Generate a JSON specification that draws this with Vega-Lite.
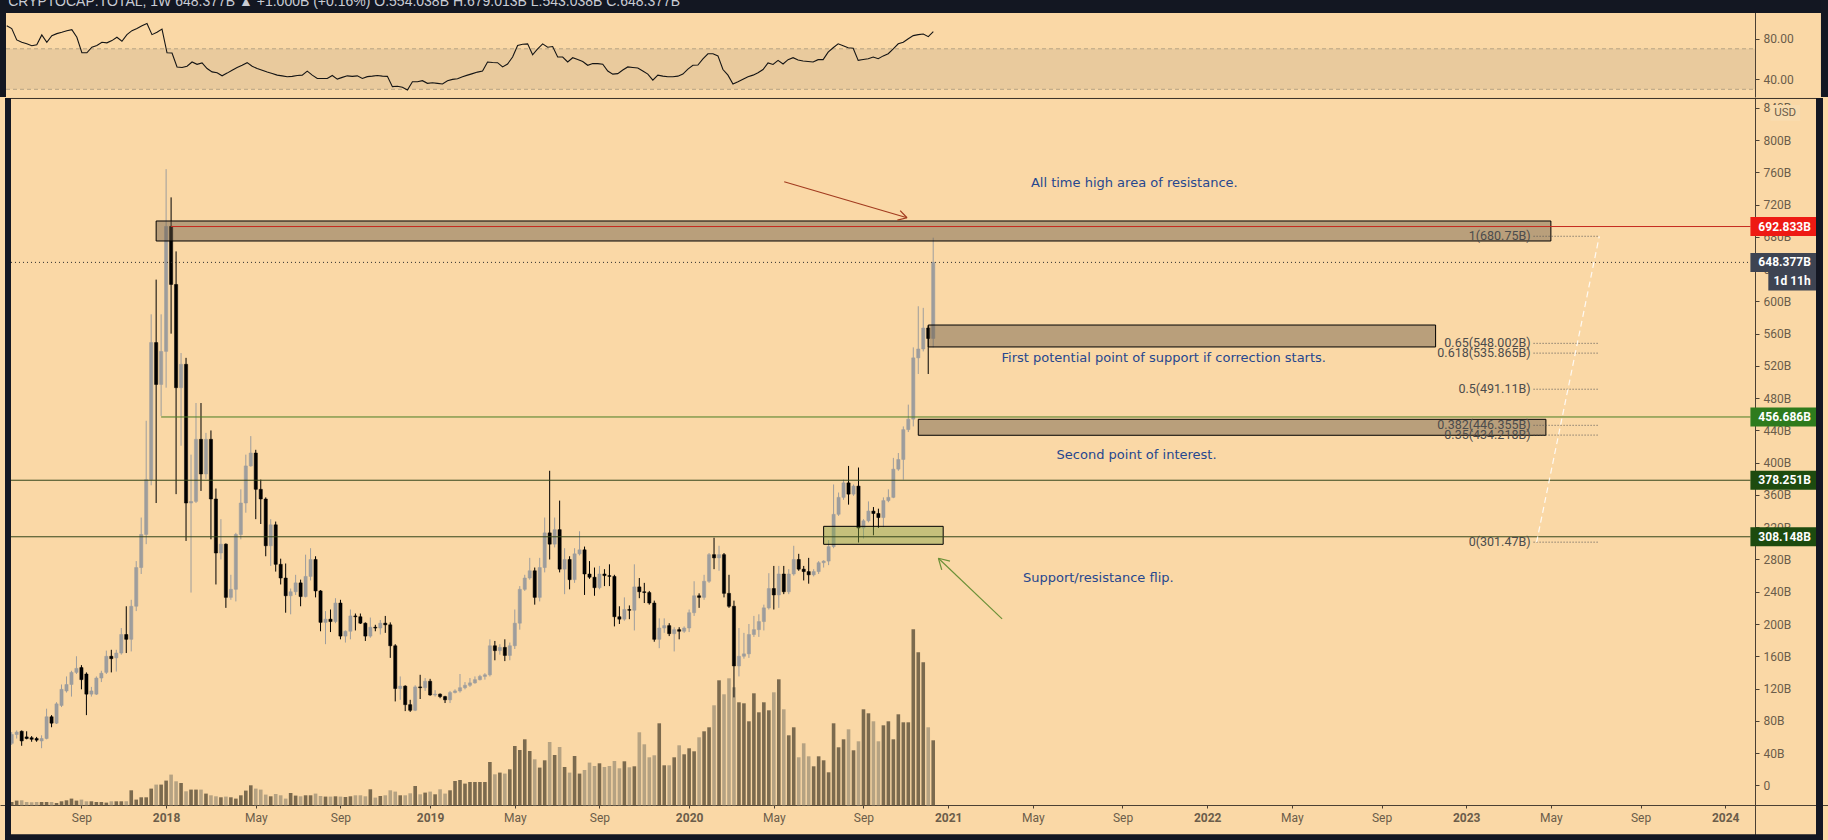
{
"$schema": "https://vega.github.io/schema/vega-lite/v6.json",
"background": "#fad8a6",
"padding": 0,
"spacing": 0,
"config": {
  "view": {"stroke": null},
  "font": "Liberation Sans",
  "axis": {"labelFont": "Roboto", "labelFontSize": 12, "labelColor": "#6b5d4a", "domainColor": "#4b4033", "tickColor": "#4b4033", "grid": false, "labelOverlap": false, "labelSeparation": 0},
  "axisY": {"labelOverlap": false},
  "axisRight": {"labelOverlap": false},
  "axisQuantitative": {"labelOverlap": false}
},
"datasets": {
  "meta": [{"header": "CRYPTOCAP:TOTAL, 1W  648.377B \u25b2 +1.000B (+0.16%)  O:554.038B  H:679.013B  L:543.038B  C:648.377B", "currency": "USD", "countdown": "1d 11h"}],
  "rsiBand": [{"lower": 30, "upper": 70}],
  "levels": [
    {"kind": "resistance", "level": 692.833, "start": "2018-01-08"},
    {"kind": "support", "level": 456.686, "start": "2017-12-25"},
    {"kind": "flip", "level": 378.251, "start": "2017-05-28"},
    {"kind": "flip", "level": 308.148, "start": "2017-05-28"},
    {"kind": "last", "level": 648.377, "start": "2017-05-28"}
  ],
  "zones": [
    {"zone": "ath", "start": "2017-12-18", "end": "2023-05-01", "top": 699.7, "bottom": 674.9},
    {"zone": "support1", "start": "2020-12-07", "end": "2022-11-20", "top": 570.7, "bottom": 543.5},
    {"zone": "support2", "start": "2020-11-23", "end": "2023-04-24", "top": 453.8, "bottom": 434.0},
    {"zone": "flip", "start": "2020-07-13", "end": "2020-12-28", "top": 321.1, "bottom": 298.8}
  ],
  "fib": [
    {"ratio": "1", "level": 680.75, "label": "1(680.75B)"},
    {"ratio": "0.65", "level": 548.002, "label": "0.65(548.002B)"},
    {"ratio": "0.618", "level": 535.865, "label": "0.618(535.865B)"},
    {"ratio": "0.5", "level": 491.11, "label": "0.5(491.11B)"},
    {"ratio": "0.382", "level": 446.355, "label": "0.382(446.355B)"},
    {"ratio": "0.35", "level": 434.218, "label": "0.35(434.218B)"},
    {"ratio": "0", "level": 301.47, "label": "0(301.47B)"}
  ],
  "fibTrend": [
    {"date": "2023-04-10T22:00:00Z", "level": 301.47},
    {"date": "2023-07-08T00:00:00Z", "level": 680.75}
  ],
  "arrows": [
    {"arrow": "red", "fromDate": "2020-05-18T14:00:00Z", "fromPrice": 748.4, "toDate": "2020-11-07T05:00:00Z", "toPrice": 703.7},
    {"arrow": "red", "fromDate": "2020-10-28T14:00:00Z", "fromPrice": 712.6, "toDate": "2020-11-07T05:00:00Z", "toPrice": 703.7},
    {"arrow": "red", "fromDate": "2020-10-24T17:00:00Z", "fromPrice": 700.7, "toDate": "2020-11-07T05:00:00Z", "toPrice": 703.7},
    {"arrow": "green", "fromDate": "2021-03-20T19:00:00Z", "fromPrice": 206.3, "toDate": "2020-12-21T07:00:00Z", "toPrice": 281.5},
    {"arrow": "green", "fromDate": "2020-12-26T00:00:00Z", "fromPrice": 267.2, "toDate": "2020-12-21T07:00:00Z", "toPrice": 281.5},
    {"arrow": "green", "fromDate": "2021-01-06T14:00:00Z", "fromPrice": 278.0, "toDate": "2020-12-21T07:00:00Z", "toPrice": 281.5}
  ],
  "notes": [
    {"date": "2021-09-22T14:00:00Z", "price": 746.8, "note": "All time high area of resistance."},
    {"date": "2021-11-03T00:00:00Z", "price": 529.8, "note": "First potential point of support if correction starts."},
    {"date": "2021-09-25T19:00:00Z", "price": 410, "note": "Second point of interest."},
    {"date": "2021-08-03T00:00:00Z", "price": 257, "note": "Support/resistance flip."}
  ],
  "candles": [
{"date":"2017-05-29","open":52,"high":66,"low":50,"close":63,"volume":3.3,"rsi":92.8},
{"date":"2017-06-05","open":63,"high":68,"low":58,"close":66,"volume":4.7,"rsi":90},
{"date":"2017-06-12","open":67,"high":68,"low":49,"close":55,"volume":5,"rsi":78.8},
{"date":"2017-06-19","open":60,"high":67,"low":57,"close":58,"volume":3.3,"rsi":76.5},
{"date":"2017-06-26","open":59,"high":61,"low":54,"close":57,"volume":3,"rsi":74.9},
{"date":"2017-07-03","open":58,"high":60,"low":54,"close":56,"volume":3.3,"rsi":73},
{"date":"2017-07-10","open":55,"high":62,"low":46,"close":58,"volume":3.3,"rsi":74},
{"date":"2017-07-17","open":58,"high":95,"low":57,"close":85,"volume":3.3,"rsi":83.7},
{"date":"2017-07-24","open":85,"high":87,"low":72,"close":77,"volume":3.3,"rsi":76.5},
{"date":"2017-07-31","open":77,"high":103,"low":76,"close":101,"volume":2.3,"rsi":83},
{"date":"2017-08-07","open":99,"high":125,"low":97,"close":119,"volume":4,"rsi":85},
{"date":"2017-08-14","open":117,"high":135,"low":115,"close":125,"volume":5,"rsi":86.3},
{"date":"2017-08-21","open":125,"high":142,"low":110,"close":140,"volume":6.7,"rsi":87.9},
{"date":"2017-08-28","open":140,"high":160,"low":138,"close":145,"volume":4.7,"rsi":88.9},
{"date":"2017-09-04","open":146,"high":149,"low":119,"close":131,"volume":5.7,"rsi":81.4},
{"date":"2017-09-11","open":138,"high":140,"low":87,"close":113,"volume":4,"rsi":66.1},
{"date":"2017-09-18","open":113,"high":122,"low":110,"close":117,"volume":4,"rsi":66.1},
{"date":"2017-09-25","open":113,"high":135,"low":112,"close":133,"volume":3.3,"rsi":71.6},
{"date":"2017-10-02","open":133,"high":142,"low":128,"close":139,"volume":3.3,"rsi":73.3},
{"date":"2017-10-09","open":140,"high":167,"low":138,"close":160,"volume":2.7,"rsi":76.5},
{"date":"2017-10-16","open":160,"high":168,"low":140,"close":157,"volume":4,"rsi":75.9},
{"date":"2017-10-23","open":158,"high":168,"low":141,"close":164,"volume":4,"rsi":78.1},
{"date":"2017-10-30","open":164,"high":195,"low":162,"close":187,"volume":4,"rsi":81.4},
{"date":"2017-11-06","open":187,"high":222,"low":164,"close":181,"volume":4,"rsi":77.5},
{"date":"2017-11-13","open":181,"high":230,"low":166,"close":222,"volume":15,"rsi":84},
{"date":"2017-11-20","open":222,"high":278,"low":216,"close":270,"volume":5.7,"rsi":87.9},
{"date":"2017-11-27","open":270,"high":332,"low":262,"close":311,"volume":8,"rsi":90},
{"date":"2017-12-04","open":311,"high":452,"low":299,"close":379,"volume":8,"rsi":92.8},
{"date":"2017-12-11","open":379,"high":584,"low":372,"close":549,"volume":16.7,"rsi":95},
{"date":"2017-12-18","open":549,"high":627,"low":350,"close":497,"volume":20.7,"rsi":84},
{"date":"2017-12-25","open":497,"high":584,"low":458,"close":538,"volume":20.7,"rsi":86.3},
{"date":"2018-01-01","open":538,"high":764,"low":493,"close":693,"volume":24.7,"rsi":89.5},
{"date":"2018-01-08","open":693,"high":729,"low":560,"close":621,"volume":30.7,"rsi":66.1},
{"date":"2018-01-15","open":621,"high":662,"low":361,"close":493,"volume":24,"rsi":65.8},
{"date":"2018-01-22","open":493,"high":536,"low":421,"close":522,"volume":22.3,"rsi":52.1},
{"date":"2018-01-29","open":522,"high":530,"low":303,"close":350,"volume":14,"rsi":51.5},
{"date":"2018-02-05","open":350,"high":410,"low":239,"close":352,"volume":15.7,"rsi":52.8},
{"date":"2018-02-12","open":352,"high":474,"low":350,"close":429,"volume":15.7,"rsi":57},
{"date":"2018-02-19","open":429,"high":474,"low":365,"close":386,"volume":15.7,"rsi":54.7},
{"date":"2018-02-26","open":386,"high":437,"low":380,"close":429,"volume":11.7,"rsi":56},
{"date":"2018-03-05","open":429,"high":440,"low":305,"close":355,"volume":10,"rsi":50.5},
{"date":"2018-03-12","open":355,"high":368,"low":249,"close":288,"volume":9,"rsi":47.2},
{"date":"2018-03-19","open":288,"high":330,"low":280,"close":299,"volume":8,"rsi":46.3},
{"date":"2018-03-26","open":299,"high":300,"low":220,"close":233,"volume":8.7,"rsi":43.3},
{"date":"2018-04-02","open":233,"high":261,"low":230,"close":243,"volume":8,"rsi":46},
{"date":"2018-04-09","open":243,"high":313,"low":228,"close":311,"volume":6.7,"rsi":48.9},
{"date":"2018-04-16","open":311,"high":367,"low":305,"close":350,"volume":10,"rsi":51.5},
{"date":"2018-04-23","open":350,"high":410,"low":338,"close":396,"volume":14.7,"rsi":53.7},
{"date":"2018-04-30","open":396,"high":433,"low":395,"close":412,"volume":20,"rsi":56.3},
{"date":"2018-05-07","open":412,"high":416,"low":330,"close":367,"volume":16.7,"rsi":52.8},
{"date":"2018-05-14","open":367,"high":379,"low":324,"close":355,"volume":15.7,"rsi":50.5},
{"date":"2018-05-21","open":355,"high":357,"low":284,"close":297,"volume":10.7,"rsi":48.9},
{"date":"2018-05-28","open":297,"high":330,"low":272,"close":323,"volume":9,"rsi":47},
{"date":"2018-06-04","open":323,"high":327,"low":265,"close":274,"volume":11.3,"rsi":45.6},
{"date":"2018-06-11","open":274,"high":281,"low":249,"close":257,"volume":10,"rsi":44},
{"date":"2018-06-18","open":257,"high":275,"low":214,"close":235,"volume":6.7,"rsi":43.3},
{"date":"2018-06-25","open":235,"high":244,"low":212,"close":240,"volume":12.3,"rsi":42.4},
{"date":"2018-07-02","open":240,"high":261,"low":236,"close":251,"volume":9.7,"rsi":42.8},
{"date":"2018-07-09","open":251,"high":255,"low":222,"close":234,"volume":9,"rsi":43.7},
{"date":"2018-07-16","open":234,"high":286,"low":233,"close":259,"volume":10,"rsi":44},
{"date":"2018-07-23","open":259,"high":294,"low":254,"close":280,"volume":10,"rsi":47.9},
{"date":"2018-07-30","open":280,"high":284,"low":233,"close":241,"volume":11.7,"rsi":44},
{"date":"2018-08-06","open":241,"high":242,"low":191,"close":202,"volume":9.3,"rsi":40.7},
{"date":"2018-08-13","open":202,"high":216,"low":175,"close":206,"volume":8.7,"rsi":40.7},
{"date":"2018-08-20","open":206,"high":218,"low":190,"close":203,"volume":8.7,"rsi":40.7},
{"date":"2018-08-27","open":203,"high":232,"low":201,"close":226,"volume":9,"rsi":43.7},
{"date":"2018-09-03","open":226,"high":230,"low":181,"close":185,"volume":8.7,"rsi":40.1},
{"date":"2018-09-10","open":185,"high":192,"low":177,"close":191,"volume":8.3,"rsi":41.8},
{"date":"2018-09-17","open":191,"high":218,"low":181,"close":210,"volume":9,"rsi":43.3},
{"date":"2018-09-24","open":210,"high":213,"low":192,"close":209,"volume":10,"rsi":42.8},
{"date":"2018-10-01","open":209,"high":213,"low":200,"close":201,"volume":10,"rsi":43.3},
{"date":"2018-10-08","open":201,"high":202,"low":179,"close":185,"volume":9,"rsi":40.7},
{"date":"2018-10-15","open":185,"high":208,"low":183,"close":196,"volume":16,"rsi":42.5},
{"date":"2018-10-22","open":196,"high":199,"low":191,"close":195,"volume":7.7,"rsi":43},
{"date":"2018-10-29","open":195,"high":205,"low":187,"close":201,"volume":9.3,"rsi":43.7},
{"date":"2018-11-05","open":201,"high":210,"low":189,"close":199,"volume":10,"rsi":43},
{"date":"2018-11-12","open":199,"high":202,"low":158,"close":173,"volume":15,"rsi":42.8},
{"date":"2018-11-19","open":173,"high":175,"low":104,"close":120,"volume":13.7,"rsi":32.6},
{"date":"2018-11-26","open":120,"high":135,"low":106,"close":123,"volume":10,"rsi":33},
{"date":"2018-12-03","open":123,"high":124,"low":92,"close":100,"volume":10,"rsi":32},
{"date":"2018-12-10","open":100,"high":106,"low":91,"close":93,"volume":12,"rsi":29.3},
{"date":"2018-12-17","open":93,"high":124,"low":92,"close":122,"volume":19.3,"rsi":37.5},
{"date":"2018-12-24","open":122,"high":137,"low":107,"close":121,"volume":11,"rsi":37.5},
{"date":"2018-12-31","open":121,"high":133,"low":117,"close":129,"volume":12.7,"rsi":38.5},
{"date":"2019-01-07","open":129,"high":132,"low":111,"close":112,"volume":13.7,"rsi":35.9},
{"date":"2019-01-14","open":112,"high":118,"low":110,"close":113,"volume":11,"rsi":36.5},
{"date":"2019-01-21","open":113,"high":114,"low":108,"close":110,"volume":16,"rsi":35.9},
{"date":"2019-01-28","open":110,"high":111,"low":102,"close":106,"volume":11.7,"rsi":35.3},
{"date":"2019-02-04","open":106,"high":117,"low":102,"close":115,"volume":15,"rsi":38.5},
{"date":"2019-02-11","open":115,"high":119,"low":114,"close":117,"volume":24.3,"rsi":39.8},
{"date":"2019-02-18","open":117,"high":138,"low":115,"close":121,"volume":25.3,"rsi":40.5},
{"date":"2019-02-25","open":121,"high":128,"low":119,"close":124,"volume":21.7,"rsi":42.5},
{"date":"2019-03-04","open":124,"high":133,"low":122,"close":127,"volume":23.3,"rsi":44},
{"date":"2019-03-11","open":127,"high":135,"low":126,"close":131,"volume":23.3,"rsi":45.5},
{"date":"2019-03-18","open":131,"high":137,"low":130,"close":135,"volume":23.3,"rsi":47},
{"date":"2019-03-25","open":135,"high":139,"low":131,"close":137,"volume":23.3,"rsi":48},
{"date":"2019-04-01","open":137,"high":181,"low":135,"close":173,"volume":43.3,"rsi":57},
{"date":"2019-04-08","open":173,"high":179,"low":155,"close":167,"volume":31,"rsi":56.5},
{"date":"2019-04-15","open":167,"high":175,"low":162,"close":171,"volume":32.7,"rsi":56.3},
{"date":"2019-04-22","open":171,"high":181,"low":154,"close":161,"volume":31.7,"rsi":52.1},
{"date":"2019-04-29","open":161,"high":177,"low":155,"close":173,"volume":36,"rsi":55},
{"date":"2019-05-06","open":173,"high":218,"low":169,"close":201,"volume":59.3,"rsi":61.9},
{"date":"2019-05-13","open":201,"high":247,"low":193,"close":243,"volume":55.3,"rsi":73.3},
{"date":"2019-05-20","open":243,"high":261,"low":241,"close":257,"volume":66,"rsi":74.5},
{"date":"2019-05-27","open":257,"high":282,"low":255,"close":266,"volume":54.3,"rsi":74.9},
{"date":"2019-06-03","open":266,"high":270,"low":224,"close":233,"volume":46,"rsi":64.1},
{"date":"2019-06-10","open":233,"high":282,"low":228,"close":270,"volume":37.7,"rsi":70},
{"date":"2019-06-17","open":270,"high":332,"low":264,"close":313,"volume":45,"rsi":74.9},
{"date":"2019-06-24","open":313,"high":390,"low":280,"close":299,"volume":63.3,"rsi":71.6},
{"date":"2019-07-01","open":299,"high":332,"low":295,"close":317,"volume":50.3,"rsi":72.2},
{"date":"2019-07-08","open":317,"high":353,"low":264,"close":268,"volume":58.3,"rsi":61.9},
{"date":"2019-07-15","open":268,"high":294,"low":237,"close":280,"volume":38.3,"rsi":61.9},
{"date":"2019-07-22","open":280,"high":284,"low":243,"close":255,"volume":32.7,"rsi":57},
{"date":"2019-07-29","open":255,"high":294,"low":251,"close":287,"volume":49.3,"rsi":61.2},
{"date":"2019-08-05","open":287,"high":315,"low":285,"close":292,"volume":31.7,"rsi":59.5},
{"date":"2019-08-12","open":292,"high":296,"low":236,"close":262,"volume":35.3,"rsi":57.5},
{"date":"2019-08-19","open":262,"high":278,"low":256,"close":258,"volume":42.7,"rsi":53.7},
{"date":"2019-08-26","open":258,"high":270,"low":235,"close":245,"volume":39.3,"rsi":55.4},
{"date":"2019-09-02","open":245,"high":272,"low":243,"close":262,"volume":42,"rsi":55.4},
{"date":"2019-09-09","open":262,"high":268,"low":247,"close":260,"volume":38.3,"rsi":54.8},
{"date":"2019-09-16","open":260,"high":274,"low":247,"close":259,"volume":39.3,"rsi":48},
{"date":"2019-09-23","open":259,"high":261,"low":197,"close":209,"volume":44.3,"rsi":45},
{"date":"2019-09-30","open":209,"high":222,"low":200,"close":206,"volume":37,"rsi":45.5},
{"date":"2019-10-07","open":206,"high":233,"low":204,"close":218,"volume":44,"rsi":49},
{"date":"2019-10-14","open":218,"high":223,"low":206,"close":217,"volume":38,"rsi":52.1},
{"date":"2019-10-21","open":217,"high":274,"low":192,"close":246,"volume":39,"rsi":51.5},
{"date":"2019-10-28","open":246,"high":257,"low":232,"close":240,"volume":73,"rsi":51},
{"date":"2019-11-04","open":240,"high":251,"low":226,"close":239,"volume":61,"rsi":48},
{"date":"2019-11-11","open":239,"high":241,"low":224,"close":226,"volume":48,"rsi":45},
{"date":"2019-11-18","open":226,"high":229,"low":178,"close":181,"volume":50,"rsi":39.1},
{"date":"2019-11-25","open":181,"high":207,"low":170,"close":195,"volume":82,"rsi":44},
{"date":"2019-12-02","open":195,"high":207,"low":189,"close":198,"volume":40,"rsi":43},
{"date":"2019-12-09","open":198,"high":201,"low":185,"close":188,"volume":40,"rsi":42.4},
{"date":"2019-12-16","open":188,"high":196,"low":166,"close":193,"volume":48,"rsi":42.4},
{"date":"2019-12-23","open":193,"high":196,"low":181,"close":191,"volume":60,"rsi":43},
{"date":"2019-12-30","open":191,"high":197,"low":189,"close":195,"volume":51,"rsi":45},
{"date":"2020-01-06","open":195,"high":218,"low":190,"close":214,"volume":57,"rsi":50},
{"date":"2020-01-13","open":214,"high":253,"low":210,"close":235,"volume":54,"rsi":53.7},
{"date":"2020-01-20","open":235,"high":238,"low":220,"close":233,"volume":68,"rsi":54},
{"date":"2020-01-27","open":233,"high":261,"low":230,"close":253,"volume":74,"rsi":60},
{"date":"2020-02-03","open":253,"high":288,"low":251,"close":286,"volume":78,"rsi":65.1},
{"date":"2020-02-10","open":286,"high":307,"low":268,"close":282,"volume":100,"rsi":65.1},
{"date":"2020-02-17","open":282,"high":297,"low":266,"close":286,"volume":125,"rsi":63},
{"date":"2020-02-24","open":286,"high":288,"low":233,"close":238,"volume":111,"rsi":49.5},
{"date":"2020-03-02","open":238,"high":261,"low":220,"close":222,"volume":127,"rsi":44},
{"date":"2020-03-09","open":222,"high":229,"low":109,"close":148,"volume":118,"rsi":35.2},
{"date":"2020-03-16","open":148,"high":195,"low":135,"close":160,"volume":103,"rsi":37.5},
{"date":"2020-03-23","open":160,"high":189,"low":157,"close":163,"volume":102,"rsi":40},
{"date":"2020-03-30","open":163,"high":200,"low":158,"close":187,"volume":84,"rsi":42.4},
{"date":"2020-04-06","open":187,"high":210,"low":184,"close":193,"volume":112,"rsi":44},
{"date":"2020-04-13","open":193,"high":212,"low":184,"close":203,"volume":93,"rsi":46.3},
{"date":"2020-04-20","open":203,"high":224,"low":192,"close":220,"volume":103,"rsi":49.5},
{"date":"2020-04-27","open":220,"high":263,"low":218,"close":244,"volume":95,"rsi":56},
{"date":"2020-05-04","open":244,"high":272,"low":218,"close":236,"volume":113,"rsi":54.5},
{"date":"2020-05-11","open":236,"high":272,"low":220,"close":262,"volume":126,"rsi":58.6},
{"date":"2020-05-18","open":262,"high":272,"low":237,"close":240,"volume":96,"rsi":55},
{"date":"2020-05-25","open":240,"high":268,"low":237,"close":262,"volume":70,"rsi":59.3},
{"date":"2020-06-01","open":262,"high":297,"low":260,"close":280,"volume":78,"rsi":61.2},
{"date":"2020-06-08","open":280,"high":287,"low":266,"close":268,"volume":48,"rsi":59},
{"date":"2020-06-15","open":268,"high":272,"low":254,"close":265,"volume":62,"rsi":58},
{"date":"2020-06-22","open":265,"high":282,"low":250,"close":261,"volume":49,"rsi":57.5},
{"date":"2020-06-29","open":261,"high":268,"low":259,"close":265,"volume":39,"rsi":57},
{"date":"2020-07-06","open":265,"high":278,"low":262,"close":276,"volume":49,"rsi":59.3},
{"date":"2020-07-13","open":276,"high":279,"low":270,"close":278,"volume":45,"rsi":59.3},
{"date":"2020-07-20","open":278,"high":304,"low":273,"close":296,"volume":33,"rsi":66.7},
{"date":"2020-07-27","open":296,"high":373,"low":294,"close":336,"volume":82,"rsi":71},
{"date":"2020-08-03","open":336,"high":363,"low":334,"close":357,"volume":58,"rsi":74.9},
{"date":"2020-08-10","open":357,"high":379,"low":354,"close":375,"volume":66,"rsi":73},
{"date":"2020-08-17","open":375,"high":396,"low":348,"close":361,"volume":76,"rsi":71},
{"date":"2020-08-24","open":361,"high":373,"low":359,"close":371,"volume":55,"rsi":70.5},
{"date":"2020-08-31","open":371,"high":394,"low":301,"close":319,"volume":64,"rsi":58.6},
{"date":"2020-09-07","open":319,"high":330,"low":306,"close":328,"volume":96,"rsi":59.5},
{"date":"2020-09-14","open":328,"high":352,"low":326,"close":340,"volume":92,"rsi":60.2},
{"date":"2020-09-21","open":340,"high":345,"low":310,"close":337,"volume":84,"rsi":61.9},
{"date":"2020-09-28","open":337,"high":343,"low":319,"close":332,"volume":64,"rsi":60.2},
{"date":"2020-10-05","open":332,"high":357,"low":320,"close":353,"volume":80,"rsi":63},
{"date":"2020-10-12","open":353,"high":367,"low":351,"close":357,"volume":84,"rsi":65.1},
{"date":"2020-10-19","open":357,"high":406,"low":356,"close":392,"volume":66,"rsi":70},
{"date":"2020-10-26","open":392,"high":412,"low":390,"close":404,"volume":91,"rsi":74.9},
{"date":"2020-11-02","open":404,"high":445,"low":379,"close":441,"volume":83,"rsi":76.5},
{"date":"2020-11-09","open":441,"high":472,"low":438,"close":454,"volume":83,"rsi":80},
{"date":"2020-11-16","open":454,"high":543,"low":445,"close":530,"volume":176,"rsi":83},
{"date":"2020-11-23","open":530,"high":594,"low":510,"close":541,"volume":153,"rsi":84},
{"date":"2020-11-30","open":541,"high":592,"low":538,"close":567,"volume":143,"rsi":84.6},
{"date":"2020-12-07","open":567,"high":570,"low":510,"close":554,"volume":78,"rsi":82},
{"date":"2020-12-14","open":554.038,"high":679.013,"low":543.038,"close":648.377,"volume":65,"rsi":86.9}
  ]
},
"vconcat": [
  {
    "width": 1828,
    "height": 97,
    "layer": [
      {
        "data": {"name": "rsiBand"},
        "mark": {"type": "rect", "color": "#e9ca9d"},
        "encoding": {
          "x": {"datum": {"year": 2017, "month": 5, "date": 28, "utc": true}, "type": "temporal", "title": null, "axis": null},
          "x2": {"datum": {"year": 2024, "month": 2, "date": 5, "hours": 10, "utc": true}},
          "y": {"field": "lower", "type": "quantitative", "title": null},
          "y2": {"field": "upper"}
        }
      },
      {
        "data": {"name": "rsiBand"},
        "mark": {"type": "rule", "color": "#b7a384", "strokeDash": [4, 3], "strokeWidth": 1},
        "encoding": {
          "x": {"datum": {"year": 2017, "month": 5, "date": 28, "utc": true}, "type": "temporal", "title": null, "axis": null},
          "x2": {"datum": {"year": 2024, "month": 2, "date": 5, "hours": 10, "utc": true}},
          "y": {"field": "lower", "type": "quantitative", "title": null}
        }
      },
      {
        "data": {"name": "rsiBand"},
        "mark": {"type": "rule", "color": "#b7a384", "strokeDash": [4, 3], "strokeWidth": 1},
        "encoding": {
          "x": {"datum": {"year": 2017, "month": 5, "date": 28, "utc": true}, "type": "temporal", "title": null, "axis": null},
          "x2": {"datum": {"year": 2024, "month": 2, "date": 5, "hours": 10, "utc": true}},
          "y": {"field": "upper", "type": "quantitative", "title": null}
        }
      },
      {
        "data": {"name": "candles"},
        "mark": {"type": "line", "color": "#151515", "strokeWidth": 1.1},
        "encoding": {
          "x": {"field": "date", "type": "temporal", "title": null, "axis": null,
                "scale": {"type": "utc", "domain": [{"year": 2017, "month": 5, "date": 19, "hours": 14, "utc": true}, {"year": 2024, "month": 5, "date": 17, "hours": 10, "utc": true}]}},
          "y": {"field": "rsi", "type": "quantitative", "title": null, "scale": {"domain": [22.4, 118.2], "nice": false, "zero": false},
                "axis": {"orient": "right", "offset": -73, "values": [40, 80], "format": ".2f", "tickSize": 4, "labelPadding": 4, "labelOverlap": false}}
        }
      },
      {
        "data": {"name": "meta"},
        "mark": {"type": "rect", "color": "#131722"},
        "encoding": {
          "x": {"datum": {"year": 2017, "month": 5, "date": 19, "hours": 14, "utc": true}, "type": "temporal", "title": null, "axis": null},
          "x2": {"datum": {"year": 2024, "month": 5, "date": 17, "hours": 10, "utc": true}},
          "y": {"datum": 105.4, "type": "quantitative", "title": null},
          "y2": {"datum": 118.2}
        }
      },
      {
        "data": {"name": "meta"},
        "mark": {"type": "rect", "color": "#131722"},
        "encoding": {
          "x": {"datum": {"year": 2017, "month": 5, "date": 19, "hours": 14, "utc": true}, "type": "temporal", "title": null, "axis": null},
          "x2": {"datum": {"year": 2017, "month": 5, "date": 28, "utc": true}},
          "y": {"datum": 22.4, "type": "quantitative", "title": null},
          "y2": {"datum": 118.2}
        }
      },
      {
        "data": {"name": "meta"},
        "mark": {"type": "rect", "color": "#131722"},
        "encoding": {
          "x": {"datum": {"year": 2024, "month": 5, "date": 7, "hours": 14, "utc": true}, "type": "temporal", "title": null, "axis": null},
          "x2": {"datum": {"year": 2024, "month": 5, "date": 17, "hours": 10, "utc": true}},
          "y": {"datum": 22.4, "type": "quantitative", "title": null},
          "y2": {"datum": 118.2}
        }
      },
      {
        "data": {"name": "meta"},
        "mark": {"type": "text", "align": "left", "baseline": "alphabetic", "fontSize": 14, "color": "#c9ccd4", "clip": true},
        "encoding": {
          "x": {"datum": {"year": 2017, "month": 5, "date": 31, "utc": true}, "type": "temporal", "title": null, "axis": null},
          "y": {"datum": 112.6, "type": "quantitative", "title": null},
          "text": {"field": "header"}
        }
      }
    ]
  },
  {
    "width": 1828,
    "height": 743,
    "layer": [
      {
        "data": {"name": "candles"},
        "mark": {"type": "bar", "width": 3.6},
        "encoding": {
          "x": {"field": "date", "type": "temporal", "title": null,
            "scale": {"type": "utc", "domain": [{"year": 2017, "month": 5, "date": 19, "hours": 14, "utc": true}, {"year": 2024, "month": 5, "date": 17, "hours": 10, "utc": true}]},
            "axis": {"orient": "bottom", "offset": -36, "tickSize": 3, "labelPadding": 4, "labelOverlap": false, "labelFlush": false,
              "values": [
                {"year": 2017, "month": 9, "date": 4, "utc": true},
                {"year": 2018, "month": 1, "date": 1, "utc": true},
                {"year": 2018, "month": 5, "date": 7, "utc": true},
                {"year": 2018, "month": 9, "date": 3, "utc": true},
                {"year": 2019, "month": 1, "date": 7, "utc": true},
                {"year": 2019, "month": 5, "date": 6, "utc": true},
                {"year": 2019, "month": 9, "date": 2, "utc": true},
                {"year": 2020, "month": 1, "date": 6, "utc": true},
                {"year": 2020, "month": 5, "date": 4, "utc": true},
                {"year": 2020, "month": 9, "date": 7, "utc": true},
                {"year": 2021, "month": 1, "date": 4, "utc": true},
                {"year": 2021, "month": 5, "date": 3, "utc": true},
                {"year": 2021, "month": 9, "date": 6, "utc": true},
                {"year": 2022, "month": 1, "date": 3, "utc": true},
                {"year": 2022, "month": 5, "date": 2, "utc": true},
                {"year": 2022, "month": 9, "date": 5, "utc": true},
                {"year": 2023, "month": 1, "date": 2, "utc": true},
                {"year": 2023, "month": 5, "date": 1, "utc": true},
                {"year": 2023, "month": 9, "date": 4, "utc": true},
                {"year": 2024, "month": 1, "date": 1, "utc": true}
              ],
              "labelExpr": "utcmonth(datum.value) === 0 ? utcFormat(datum.value, '%Y') : utcFormat(datum.value, '%b')",
              "labelFontWeight": {"condition": {"test": "utcmonth(datum.value) === 0", "value": "bold"}, "value": "normal"}
            }},
          "y": {"field": "volume", "type": "quantitative", "title": null, "stack": null, "scale": {"domain": [-35.7, 707.3], "nice": false, "zero": false}, "axis": null},
          "color": {"condition": {"test": "datum.close >= datum.open", "value": "#7b6a4e"}, "value": "#b5a282"}
        }
      },
      {
        "layer": [
          {
            "data": {"name": "candles"},
            "mark": {"type": "rule", "strokeWidth": 1},
            "encoding": {
              "x": {"field": "date", "type": "temporal", "title": null},
              "y": {"field": "low", "type": "quantitative", "title": null, "scale": {"domain": [-69.06, 852.2], "nice": false, "zero": false},
                    "axis": {"orient": "right", "offset": -73, "tickSize": 4, "labelPadding": 4, "labelOverlap": false, "tickCount": 22,
                             "values": [0, 40, 80, 120, 160, 200, 240, 280, 320, 360, 400, 440, 480, 520, 560, 600, 640, 680, 720, 760, 800, 840],
                             "labelExpr": "datum.value == 0 ? '0' : datum.value + 'B'"}},
              "y2": {"field": "high"},
              "color": {"condition": {"test": "datum.close >= datum.open", "value": "#9d9d9d"}, "value": "#000000"}
            }
          },
          {
            "data": {"name": "candles"},
            "mark": {"type": "bar", "width": 3.2, "strokeWidth": 0.5},
            "encoding": {
              "x": {"field": "date", "type": "temporal", "title": null},
              "y": {"field": "open", "type": "quantitative", "title": null},
              "y2": {"field": "close"},
              "color": {"condition": {"test": "datum.close >= datum.open", "value": "#9d9d9d"}, "value": "#000000"},
              "stroke": {"condition": {"test": "datum.close >= datum.open", "value": "#9d9d9d"}, "value": "#000000"}
            }
          },
          {
            "data": {"name": "zones"},
            "mark": {"type": "rect", "stroke": "#000000", "strokeWidth": 1, "fillOpacity": 0.45},
            "encoding": {
              "x": {"field": "start", "type": "temporal", "title": null},
              "x2": {"field": "end"},
              "y": {"field": "bottom", "type": "quantitative", "title": null},
              "y2": {"field": "top"},
              "fill": {"condition": {"test": "datum.zone === 'flip'", "value": "#86a347"}, "value": "#6b5a48"}
            }
          },
          {
            "data": {"name": "levels"},
            "transform": [{"filter": "datum.kind !== 'last'"}],
            "mark": {"type": "rule", "strokeWidth": 1},
            "encoding": {
              "x": {"field": "start", "type": "temporal", "title": null},
              "x2": {"datum": {"year": 2024, "month": 2, "date": 5, "hours": 10, "utc": true}},
              "y": {"field": "level", "type": "quantitative", "title": null},
              "color": {"condition": [{"test": "datum.kind === 'resistance'", "value": "#c62a1f"}, {"test": "datum.kind === 'support'", "value": "#4b7d22"}], "value": "#34461b"}
            }
          },
          {
            "data": {"name": "levels"},
            "transform": [{"filter": "datum.kind === 'last'"}],
            "mark": {"type": "rule", "strokeWidth": 1, "color": "#2b2b2b", "strokeDash": [1, 3]},
            "encoding": {
              "x": {"field": "start", "type": "temporal", "title": null},
              "x2": {"datum": {"year": 2024, "month": 2, "date": 5, "hours": 10, "utc": true}},
              "y": {"field": "level", "type": "quantitative", "title": null}
            }
          },
          {
            "data": {"name": "meta"},
            "mark": {"type": "rule", "strokeWidth": 1, "color": "#3b3227"},
            "encoding": {
              "x": {"datum": {"year": 2017, "month": 5, "date": 28, "utc": true}, "type": "temporal", "title": null},
              "x2": {"datum": {"year": 2024, "month": 5, "date": 7, "hours": 14, "utc": true}},
              "y": {"datum": 851.6, "type": "quantitative", "title": null}
            }
          },
          {
            "data": {"name": "fib"},
            "mark": {"type": "rule", "color": "#555555", "strokeDash": [1, 2], "strokeWidth": 1},
            "encoding": {
              "x": {"datum": {"year": 2023, "month": 4, "date": 6, "hours": 17, "utc": true}, "type": "temporal", "title": null},
              "x2": {"datum": {"year": 2023, "month": 7, "date": 8, "utc": true}},
              "y": {"field": "level", "type": "quantitative", "title": null}
            }
          },
          {
            "data": {"name": "fib"},
            "mark": {"type": "text", "align": "right", "baseline": "middle", "fontSize": 12.5, "color": "#4c4c4c", "font": "Roboto"},
            "encoding": {
              "x": {"datum": {"year": 2023, "month": 4, "date": 2, "hours": 12, "utc": true}, "type": "temporal", "title": null},
              "y": {"field": "level", "type": "quantitative", "title": null},
              "text": {"field": "label"}
            }
          },
          {
            "data": {"name": "fibTrend"},
            "mark": {"type": "line", "color": "#ffffff", "strokeDash": [6, 4], "strokeWidth": 1.2, "opacity": 0.85},
            "encoding": {
              "x": {"field": "date", "type": "temporal", "title": null},
              "y": {"field": "level", "type": "quantitative", "title": null}
            }
          },
          {
            "data": {"name": "arrows"},
            "mark": {"type": "rule", "strokeWidth": 1.2},
            "encoding": {
              "x": {"field": "fromDate", "type": "temporal", "title": null},
              "x2": {"field": "toDate"},
              "y": {"field": "fromPrice", "type": "quantitative", "title": null},
              "y2": {"field": "toPrice"},
              "color": {"condition": {"test": "datum.arrow === 'red'", "value": "#a23b1f"}, "value": "#6c9138"}
            }
          },
          {
            "data": {"name": "notes"},
            "mark": {"type": "text", "align": "center", "baseline": "middle", "fontSize": 13, "color": "#26478f", "font": "DejaVu Sans"},
            "encoding": {
              "x": {"field": "date", "type": "temporal", "title": null},
              "y": {"field": "price", "type": "quantitative", "title": null},
              "text": {"field": "note"}
            }
          },
          {
            "data": {"name": "levels"},
            "mark": {"type": "rect", "height": 19},
            "encoding": {
              "x": {"datum": {"year": 2024, "month": 2, "date": 5, "hours": 10, "utc": true}, "type": "temporal", "title": null},
              "x2": {"datum": {"year": 2024, "month": 5, "date": 7, "hours": 14, "utc": true}},
              "y": {"field": "level", "type": "quantitative", "title": null},
              "color": {"condition": [{"test": "datum.kind === 'resistance'", "value": "#ee1a13"}, {"test": "datum.kind === 'support'", "value": "#2e7b1d"}, {"test": "datum.kind === 'last'", "value": "#3e4452"}], "value": "#1d4b0f"}
            }
          },
          {
            "data": {"name": "levels"},
            "transform": [{"calculate": "format(datum.level, '.3f') + 'B'", "as": "tag"}],
            "mark": {"type": "text", "align": "left", "baseline": "middle", "fontSize": 12, "fontWeight": "bold", "color": "#ffffff", "font": "Roboto"},
            "encoding": {
              "x": {"datum": {"year": 2024, "month": 2, "date": 16, "hours": 14, "utc": true}, "type": "temporal", "title": null},
              "y": {"field": "level", "type": "quantitative", "title": null},
              "text": {"field": "tag"}
            }
          },
          {
            "data": {"name": "meta"},
            "mark": {"type": "rect", "height": 19, "color": "#3e4452"},
            "encoding": {
              "x": {"datum": {"year": 2024, "month": 3, "date": 1, "hours": 14, "utc": true}, "type": "temporal", "title": null},
              "x2": {"datum": {"year": 2024, "month": 5, "date": 7, "hours": 14, "utc": true}},
              "y": {"datum": 625.3, "type": "quantitative", "title": null}
            }
          },
          {
            "data": {"name": "meta"},
            "mark": {"type": "text", "align": "center", "baseline": "middle", "fontSize": 12, "fontWeight": "bold", "color": "#ffffff", "font": "Roboto"},
            "encoding": {
              "x": {"datum": {"year": 2024, "month": 4, "date": 4, "utc": true}, "type": "temporal", "title": null},
              "y": {"datum": 625.3, "type": "quantitative", "title": null},
              "text": {"field": "countdown"}
            }
          },
          {
            "data": {"name": "meta"},
            "mark": {"type": "rect", "color": "#f8dcb0"},
            "encoding": {
              "x": {"datum": {"year": 2024, "month": 3, "date": 4, "hours": 10, "utc": true}, "type": "temporal", "title": null},
              "x2": {"datum": {"year": 2024, "month": 4, "date": 15, "hours": 7, "utc": true}},
              "y": {"datum": 824, "type": "quantitative", "title": null},
              "y2": {"datum": 843.5}
            }
          },
          {
            "data": {"name": "meta"},
            "mark": {"type": "text", "align": "center", "baseline": "middle", "fontSize": 11.5, "color": "#6b5d4a", "font": "Roboto"},
            "encoding": {
              "x": {"datum": {"year": 2024, "month": 3, "date": 25, "hours": 7, "utc": true}, "type": "temporal", "title": null},
              "y": {"datum": 833.6, "type": "quantitative", "title": null},
              "text": {"field": "currency"}
            }
          },
          {
            "data": {"name": "meta"},
            "mark": {"type": "rect", "color": "#131722"},
            "encoding": {
              "x": {"datum": {"year": 2017, "month": 5, "date": 19, "hours": 14, "utc": true}, "type": "temporal", "title": null},
              "x2": {"datum": {"year": 2017, "month": 5, "date": 28, "utc": true}},
              "y": {"datum": -69.06, "type": "quantitative", "title": null},
              "y2": {"datum": 852.2}
            }
          },
          {
            "data": {"name": "meta"},
            "mark": {"type": "rect", "color": "#131722"},
            "encoding": {
              "x": {"datum": {"year": 2024, "month": 5, "date": 7, "hours": 14, "utc": true}, "type": "temporal", "title": null},
              "x2": {"datum": {"year": 2024, "month": 5, "date": 17, "hours": 10, "utc": true}},
              "y": {"datum": -69.06, "type": "quantitative", "title": null},
              "y2": {"datum": 852.2}
            }
          },
          {
            "data": {"name": "meta"},
            "mark": {"type": "rect", "color": "#131722"},
            "encoding": {
              "x": {"datum": {"year": 2017, "month": 5, "date": 19, "hours": 14, "utc": true}, "type": "temporal", "title": null},
              "x2": {"datum": {"year": 2024, "month": 5, "date": 17, "hours": 10, "utc": true}},
              "y": {"datum": -69.06, "type": "quantitative", "title": null},
              "y2": {"datum": -60.8}
            }
          }
        ]
      }
    ],
    "resolve": {"scale": {"y": "independent"}}
  }
]
}
